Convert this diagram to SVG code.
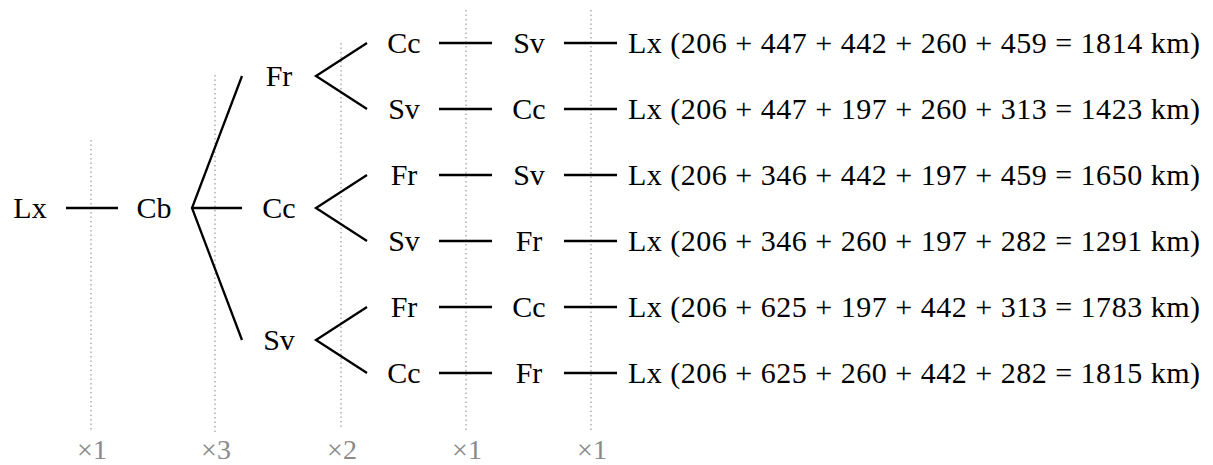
<svg xmlns="http://www.w3.org/2000/svg" width="1213" height="465" viewBox="0 0 1213 465">
<style>
.t{font-size:30px;fill:#000}
.n{text-anchor:middle}
.m{text-anchor:middle;font-size:28px;fill:#8a8a8a}
.c{stroke:#000;stroke-width:2.3;fill:none}
.g{stroke:#9a9a9a;stroke-width:1.2;stroke-dasharray:1.5 3;fill:none}
</style>
<rect width="1213" height="465" fill="#fff"/>
<g id="guides" font-family="Liberation Serif, DejaVu Serif, serif">
<line class="g" x1="91" y1="140" x2="91" y2="430"/>
<line class="g" x1="215" y1="75" x2="215" y2="435"/>
<line class="g" x1="341" y1="43" x2="341" y2="428"/>
<line class="g" x1="466" y1="10" x2="466" y2="430"/>
<line class="g" x1="591" y1="10" x2="591" y2="430"/>
<text class="m" x="92" y="459">×1</text>
<text class="m" x="216" y="459">×3</text>
<text class="m" x="342" y="459">×2</text>
<text class="m" x="467" y="459">×1</text>
<text class="m" x="592" y="459">×1</text>
</g>
<g id="connectors">
<path class="c" d="M66 208H118"/>
<path class="c" d="M242 76L192 208L242 340M192 208H242"/>
<path class="c" d="M367 43L316 76L367 109"/>
<path class="c" d="M367 175L316 208L367 241"/>
<path class="c" d="M367 307L316 340L367 373"/>
<path class="c" d="M439 43H492M439 109H492M439 175H492M439 241H492M439 307H492M439 373H492"/>
<path class="c" d="M564 43H617M564 109H617M564 175H617M564 241H617M564 307H617M564 373H617"/>
</g>
<g id="nodes" font-family="Liberation Serif, DejaVu Serif, serif">
<g id="n-lx"><text class="t n" x="30" y="218">Lx</text></g>
<g id="n-cb"><text class="t n" x="154" y="218">Cb</text></g>
<g id="n-fr"><text class="t n" x="279" y="86">Fr</text></g>
<g id="n-cc"><text class="t n" x="279" y="218">Cc</text></g>
<g id="n-sv"><text class="t n" x="279" y="350">Sv</text></g>
<g id="n-r1a"><text class="t n" x="404" y="53">Cc</text></g>
<g id="n-r2a"><text class="t n" x="404" y="119">Sv</text></g>
<g id="n-r3a"><text class="t n" x="404" y="185">Fr</text></g>
<g id="n-r4a"><text class="t n" x="404" y="251">Sv</text></g>
<g id="n-r5a"><text class="t n" x="404" y="317">Fr</text></g>
<g id="n-r6a"><text class="t n" x="404" y="383">Cc</text></g>
<g id="n-r1b"><text class="t n" x="529" y="53">Sv</text></g>
<g id="n-r2b"><text class="t n" x="529" y="119">Cc</text></g>
<g id="n-r3b"><text class="t n" x="529" y="185">Sv</text></g>
<g id="n-r4b"><text class="t n" x="529" y="251">Fr</text></g>
<g id="n-r5b"><text class="t n" x="529" y="317">Cc</text></g>
<g id="n-r6b"><text class="t n" x="529" y="383">Fr</text></g>
<g id="n-r1c"><text class="t" x="628" y="53" textLength="572" lengthAdjust="spacing">Lx (206 + 447 + 442 + 260 + 459 = 1814 km)</text></g>
<g id="n-r2c"><text class="t" x="628" y="119" textLength="572" lengthAdjust="spacing">Lx (206 + 447 + 197 + 260 + 313 = 1423 km)</text></g>
<g id="n-r3c"><text class="t" x="628" y="185" textLength="572" lengthAdjust="spacing">Lx (206 + 346 + 442 + 197 + 459 = 1650 km)</text></g>
<g id="n-r4c"><text class="t" x="628" y="251" textLength="572" lengthAdjust="spacing">Lx (206 + 346 + 260 + 197 + 282 = 1291 km)</text></g>
<g id="n-r5c"><text class="t" x="628" y="317" textLength="572" lengthAdjust="spacing">Lx (206 + 625 + 197 + 442 + 313 = 1783 km)</text></g>
<g id="n-r6c"><text class="t" x="628" y="383" textLength="572" lengthAdjust="spacing">Lx (206 + 625 + 260 + 442 + 282 = 1815 km)</text></g>
</g>
</svg>
